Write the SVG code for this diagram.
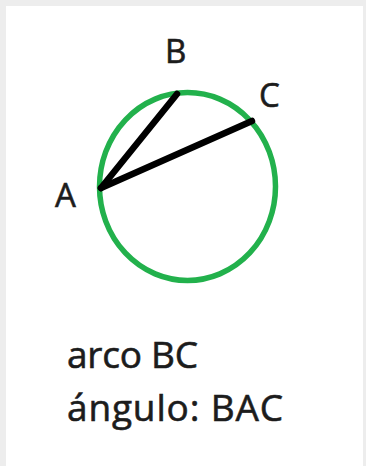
<svg xmlns="http://www.w3.org/2000/svg" width="366" height="466" viewBox="0 0 366 466">
<style>
.lbl{font-family:"Open Sans","Liberation Sans",sans-serif;font-size:33px;fill:#1c1c1c;stroke:#1c1c1c;stroke-width:0.6}
.txt{font-family:"Open Sans","Liberation Sans",sans-serif;font-size:37px;fill:#1c1c1c;stroke:#1c1c1c;stroke-width:0.6}
.chord{stroke:#000;stroke-width:6.5;stroke-linecap:round;fill:none}
</style>
<rect x="0" y="0" width="366" height="466" fill="#ededed"/>
<rect x="6" y="6" width="357" height="460" fill="#ffffff"/>
<g id="circle">
<ellipse cx="187.5" cy="186.5" rx="88" ry="94" fill="none" stroke="#22b14c" stroke-width="5.5"/>
</g>
<g id="connectors">
<line class="chord" x1="101" y1="188" x2="177" y2="94"/>
<line class="chord" x1="101" y1="188" x2="252" y2="121"/>
</g>
<g id="label-A"><text class="lbl" x="55" y="207">A</text></g>
<g id="label-B"><text class="lbl" x="165" y="63">B</text></g>
<g id="label-C"><text class="lbl" x="259" y="107">C</text></g>
<g id="caption">
<text class="txt" x="67" y="368" textLength="131">arco BC</text>
<text class="txt" x="67" y="421" textLength="216">ángulo: BAC</text>
</g>
</svg>
